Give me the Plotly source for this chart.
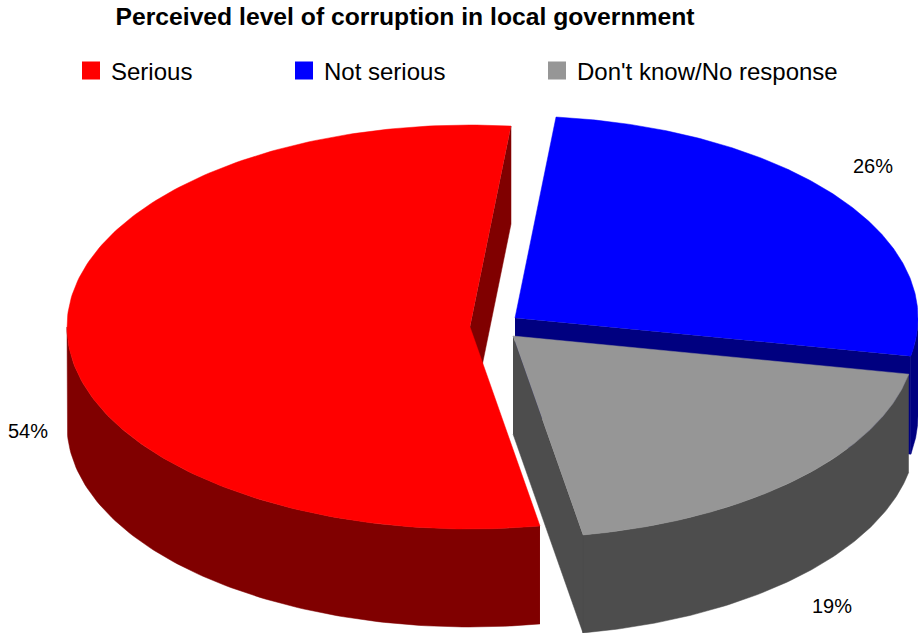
import numpy as np
import plotly.graph_objects as go

# Data (unrounded shares)
categories = ["Serious", "Not serious", "Don't know/No response"]
values = [54.4, 26.4, 19.2]
value_labels = ["54%", "26%", "19%"]
title_text = "Perceived level of corruption in local government"

# Styles and projection of the 3D pie
top_colors = ["#FF0000", "#0000FF", "#969696"]
side_colors = ["#800000", "#000080", "#4D4D4D"]
centers = [(470, 327), (515, 318), (513, 336)]
label_pos = [(28, 433), (873, 168), (832, 608)]
legend_x = [86, 299, 552]
RX, RY, DEPTH = 403, 202, 98
FIRST_ANGLE = 170
FONT = "Liberation Sans"


def rim(c, t):
    t = np.radians(t)
    return c[0] + RX * np.sin(t), c[1] - RY * np.cos(t)


def poly(color, xs, ys):
    return go.Scatter(x=list(xs), y=list(ys), mode="lines", fill="toself", fillcolor=color,
                      line=dict(color=color, width=0.5), hoverinfo="skip", showlegend=False)


total = sum(values)
spans = []
a0 = FIRST_ANGLE
for v in values:
    a1 = a0 + v / total * 360
    spans.append((a0, a1))
    a0 = a1

fig = go.Figure()
for i in [1, 0, 2]:
    c = centers[i]
    t0, t1 = spans[i]
    # radial wall at the clockwise end of the slice faces the viewer
    ex, ey = rim(c, t1)
    fig.add_trace(poly(side_colors[i], [c[0], ex, ex, c[0]], [c[1], ey, ey + DEPTH, c[1] + DEPTH]))
    # outer wall, front half only
    for k in (0, -360):
        lo, hi = max(t0 + k, 90), min(t1 + k, 270)
        if hi > lo:
            ts = np.linspace(lo, hi, 100)
            ox, oy = rim(c, ts)
            fig.add_trace(poly(side_colors[i], np.r_[ox, ox[::-1]], np.r_[oy, oy[::-1] + DEPTH]))
    # top face
    ts = np.linspace(t0, t1, 200)
    tx, ty = rim(c, ts)
    fig.add_trace(poly(top_colors[i], np.r_[c[0], tx], np.r_[c[1], ty]))

# value labels
fig.add_trace(go.Scatter(x=[p[0] for p in label_pos], y=[p[1] for p in label_pos], mode="text",
                         text=value_labels, textposition="middle center",
                         textfont=dict(family=FONT, size=20, color="#000000"),
                         hoverinfo="skip", showlegend=False))

# legend entries, one positioned legend per category
legend_cfg = {}
for i, name in enumerate(categories):
    key = "legend" if i == 0 else f"legend{i + 1}"
    fig.add_trace(go.Scatter(x=[None], y=[None], mode="markers", name=name, legend=key, showlegend=True,
                             marker=dict(symbol="square", size=16, color=top_colors[i],
                                         line=dict(color=top_colors[i], width=2))))
    legend_cfg[key] = dict(x=(legend_x[i] - 15) / 918, y=1 - 71 / 633, xanchor="left", yanchor="middle",
                           bgcolor="rgba(0,0,0,0)", borderwidth=0, itemsizing="trace", itemwidth=30,
                           font=dict(family=FONT, size=24, color="#000000"), tracegroupgap=0)

fig.update_layout(
    width=918, height=633, margin=dict(l=0, r=0, t=0, b=0),
    paper_bgcolor="#FFFFFF", plot_bgcolor="#FFFFFF",
    title=dict(text=f"<b>{title_text}</b>", x=405 / 918, y=1 - 16 / 633, xanchor="center", yanchor="middle",
               font=dict(family=FONT, size=24.7, color="#000000")),
    xaxis=dict(range=[0, 918], visible=False, fixedrange=True),
    yaxis=dict(range=[633, 0], visible=False, fixedrange=True),
    **legend_cfg,
)
fig.write_html("out.html", config={"displayModeBar": False},
               post_script="document.body.style.margin='0';document.documentElement.style.overflow='hidden';")
